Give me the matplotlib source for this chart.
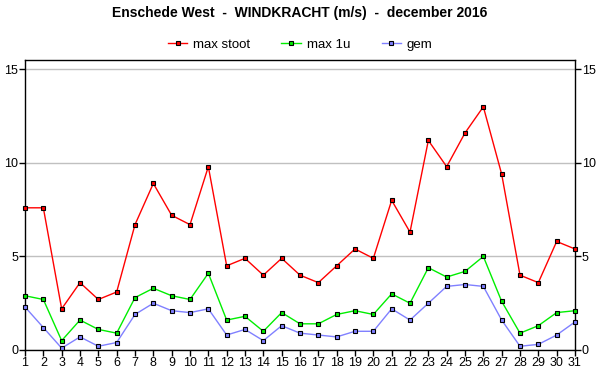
import matplotlib
matplotlib.use('Agg')
import matplotlib.pyplot as plt

plt.rcParams['font.family'] = ['Liberation Sans', 'DejaVu Sans']

days = list(range(1, 32))
max_stoot = [7.6, 7.6, 2.2, 3.6, 2.7, 3.1, 6.7, 8.9, 7.2, 6.7, 9.8, 4.5, 4.9, 4.0, 4.9, 4.0,
             3.6, 4.5, 5.4, 4.9, 8.0, 6.3, 11.2, 9.8, 11.6, 13.0, 9.4, 4.0, 3.6, 5.8, 5.4]
max_1u = [2.9, 2.7, 0.5, 1.6, 1.1, 0.9, 2.8, 3.3, 2.9, 2.7, 4.1, 1.6, 1.8, 1.0, 2.0, 1.4,
          1.4, 1.9, 2.1, 1.9, 3.0, 2.5, 4.4, 3.9, 4.2, 5.0, 2.6, 0.9, 1.3, 2.0, 2.1]
gem = [2.3, 1.2, 0.1, 0.7, 0.2, 0.4, 1.9, 2.5, 2.1, 2.0, 2.2, 0.8, 1.1, 0.5, 1.3, 0.9,
       0.8, 0.7, 1.0, 1.0, 2.2, 1.6, 2.5, 3.4, 3.5, 3.4, 1.6, 0.2, 0.3, 0.8, 1.5]

fig = plt.figure(figsize=(6, 3.9), dpi=100)
ax = fig.add_axes([25 / 600, 1 - 350 / 390, 550 / 600, 290 / 390])

series = [(max_stoot, '#ff0000', 'max stoot'),
          (max_1u, '#00ee00', 'max 1u'),
          (gem, '#8080ff', 'gem')]
for vals, col, lab in series:
    ax.plot(days, vals, color=col, lw=1, marker='s', ms=3.5,
            mfc=col, mec='black', mew=0.8, label=lab, clip_on=False, zorder=3)

ax.set_xlim(1, 31)
ax.set_ylim(0, 15.5)
ax.set_xticks(days)
ax.set_yticks([0, 5, 10, 15])
ax.tick_params(axis='both', labelsize=9, length=4, width=1, direction='out', pad=1)
ax.tick_params(axis='y', right=True, labelright=True)
ax.grid(axis='y', color='#c0c0c0', lw=1)
ax.set_axisbelow(True)
for s in ax.spines.values():
    s.set_linewidth(1)

fig.suptitle('Enschede West  -  WINDKRACHT (m/s)  -  december 2016',
             fontsize=10, fontweight='bold', y=0.985)
fig.legend(loc='center', bbox_to_anchor=(0.5, 1 - 45 / 390), ncol=3, frameon=False,
           fontsize=9.5, handlelength=1.5, columnspacing=2.4, handletextpad=0.4,
           markerscale=0.7)

fig.savefig('out.png', dpi=100)
